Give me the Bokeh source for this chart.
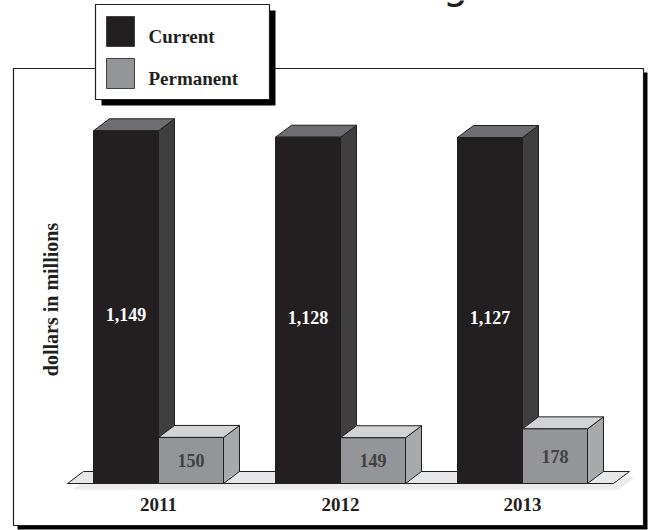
import math
from bokeh.plotting import figure
from bokeh.models import Range1d, ColumnDataSource
from bokeh.core.properties import value
from bokeh.embed import file_html
from bokeh.resources import INLINE

# ---------------- data ----------------
years = ["2011", "2012", "2013"]
current = [1149, 1128, 1127]
permanent = [150, 149, 178]
current_labels = ["1,149", "1,128", "1,127"]
permanent_labels = ["150", "149", "178"]
series_names = ["Current", "Permanent"]
axis_title = "dollars in millions"

# ---------------- layout (pixel calibration) ----------------
W, H = 648, 530
X0, XS = 158.0, 182.0      # pixel of group 0 centre, pixels per group
Y0, YS = 483.0, 0.307      # pixel of value 0, pixels per unit


def px(xp):
    return (xp - X0) / XS


def py(yp):
    return (Y0 - yp) / YS


BW = 65.0 / XS            # bar width (data units)
DX = 16.0 / XS            # 3d depth x
DY = 12.0 / YS            # 3d depth y

FONT = value("Liberation Serif")
INK = "#231f20"

p = figure(width=W, height=H, x_range=Range1d(px(0), px(W)), y_range=Range1d(py(H), py(0)),
           toolbar_location=None, output_backend="svg", min_border=0,
           x_axis_type=None, y_axis_type=None, outline_line_color=None,
           background_fill_color="white", border_fill_color="white")
p.grid.visible = False

# ---------------- outer frame with shadow ----------------
p.quad(left=[px(17)], right=[px(647)], top=[py(72)], bottom=[py(529)],
       fill_color="black", line_color=None)
p.quad(left=[px(13)], right=[px(643)], top=[py(68)], bottom=[py(525)],
       fill_color="white", line_color=INK, line_width=1.2)

# ---------------- floor ----------------
n = len(years)
fl, fr = -0.5, n - 0.5
sx, sy = 5.0 / XS, -6.0 / YS
p.patch([fl + sx, fr + sx, fr + DX + sx, fl + DX + sx], [sy, sy, DY + sy, DY + sy],
        fill_color="#ebebec", line_color=None)
p.patch([fl, fr, fr + DX, fl + DX], [0, 0, DY, DY],
        fill_color="#e6e7e8", line_color=INK, line_width=1)


# ---------------- 3d bars ----------------
def bar3d(lefts, rights, vals, front, side, top):
    src = ColumnDataSource(dict(left=lefts, right=rights, top=vals, bottom=[0] * len(vals)))
    sxs, sys_, txs, tys = [], [], [], []
    for l, r, v in zip(lefts, rights, vals):
        sxs.append([r, r + DX, r + DX, r])
        sys_.append([0, DY, v + DY, v])
        txs.append([l, l + DX, r + DX, r])
        tys.append([v, v + DY, v + DY, v])
    p.patches(sxs, sys_, fill_color=side, line_color=INK, line_width=1)
    p.patches(txs, tys, fill_color=top, line_color=INK, line_width=1)
    p.quad(left="left", right="right", top="top", bottom="bottom", source=src,
           fill_color=front, line_color=INK, line_width=1)


idx = list(range(n))
bar3d([i - BW for i in idx], [float(i) for i in idx], current, "#231f20", "#3f3f40", "#6d6e71")
bar3d([float(i) for i in idx], [i + BW for i in idx], permanent, "#939598", "#a7a9ac", "#d1d3d4")

# value labels
p.text(x=[i - BW / 2 for i in idx], y=[v * 0.48 for v in current], text=current_labels,
       text_font=FONT, text_font_style="bold", text_font_size="18px", text_color="white",
       text_align="center", text_baseline="middle")
p.text(x=[i + BW / 2 for i in idx], y=[v * 0.5 for v in permanent], text=permanent_labels,
       text_font=FONT, text_font_style="bold", text_font_size="18px", text_color="#414042",
       text_align="center", text_baseline="middle")

# category labels
p.text(x=idx, y=[py(504)] * n, text=years, text_font=FONT, text_font_style="bold",
       text_font_size="19px", text_color=INK, text_align="center", text_baseline="middle")

# y axis title
p.text(x=[px(50)], y=[py(299)], text=[axis_title], angle=math.pi / 2, text_font=FONT,
       text_font_style="bold", text_font_size="20px", text_color=INK,
       text_align="center", text_baseline="middle")

# ---------------- legend ----------------
p.quad(left=[px(101)], right=[px(275)], top=[py(10)], bottom=[py(105)],
       fill_color="black", line_color=None)
p.quad(left=[px(95)], right=[px(269)], top=[py(4)], bottom=[py(99)],
       fill_color="white", line_color=INK, line_width=1.2)
p.quad(left=[px(106), px(106)], right=[px(134), px(134)], top=[py(16), py(58)],
       bottom=[py(46), py(88)], fill_color=["#231f20", "#939598"],
       line_color=["#414042", "#414042"], line_width=1)
p.text(x=[px(148), px(148)], y=[py(36), py(78)], text=series_names, text_font=FONT,
       text_font_style="bold", text_font_size="19px", text_color=INK,
       text_align="left", text_baseline="middle")

# clipped title fragment at top
p.text(x=[px(455)], y=[py(6)], text=["g"], text_font=value("DejaVu Sans"),
       text_font_size="40px", text_color=INK, text_align="center", text_baseline="bottom")

open("out.html", "w").write(file_html(p, INLINE))
